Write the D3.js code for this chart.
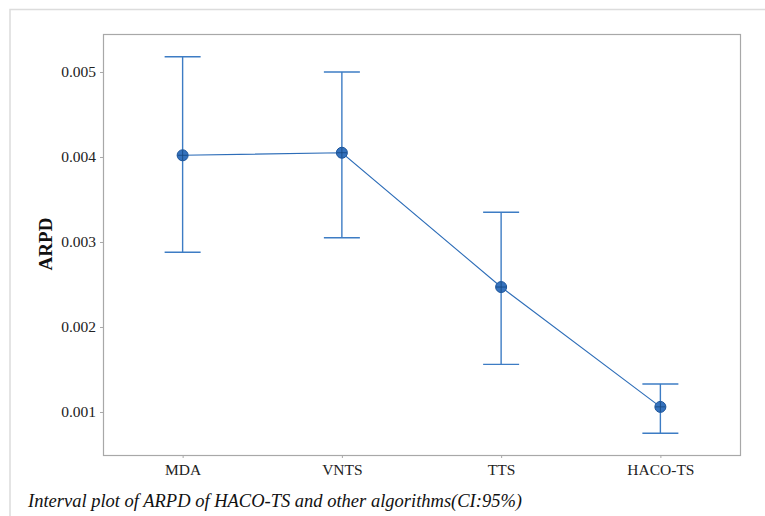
<!DOCTYPE html>
<html>
<head>
<meta charset="utf-8">
<script src="https://cdn.jsdelivr.net/npm/d3@7"></script>
<style>
  body { margin: 0; background: #fff; }
  svg { display: block; font-family: "Liberation Serif", "Times New Roman", serif; }
</style>
</head>
<body>
<svg id="chart"></svg>
<script>
const width = 765;
const height = 516;

// data
const algorithms = ["MDA", "VNTS", "TTS", "HACO-TS"];
const means = [0.00402, 0.00405, 0.00247, 0.00106];
const lower = [0.00288, 0.00305, 0.00156, 0.00075];
const upper = [0.00518, 0.00500, 0.00335, 0.00133];
const yTicks = [0.001, 0.002, 0.003, 0.004, 0.005];

const margin = {top: 34, right: 25, bottom: 61, left: 103};
const blue = "#3d7cc4";

var svg = d3.select("#chart").attr("width", width).attr("height", height);

// outer frame (only top and left edges show)
svg.append("path")
  .attr("d", `M10,${height}V9.5H${width}`)
  .attr("fill", "none")
  .attr("stroke", "#dcdcdc")
  .attr("stroke-width", 1.5);

var xScale = d3.scalePoint().domain(algorithms)
  .range([margin.left, width - margin.right]).padding(0.5);
var yScale = d3.scaleLinear().domain([0.000494, 0.005447])
  .range([height - margin.bottom, margin.top]);

// plot box
svg.append("rect")
  .attr("x", margin.left + 0.5)
  .attr("y", margin.top + 0.5)
  .attr("width", width - margin.left - margin.right)
  .attr("height", height - margin.top - margin.bottom)
  .attr("fill", "none")
  .attr("stroke", "#a8a8a8")
  .attr("stroke-width", 1.2);

var yAxis = svg.append("g")
  .attr("transform", `translate(${margin.left},0)`)
  .call(d3.axisLeft(yScale).tickValues(yTicks).tickFormat(d3.format(".3f")).tickSize(3).tickPadding(4));
var xAxis = svg.append("g")
  .attr("transform", `translate(0,${height - margin.bottom})`)
  .call(d3.axisBottom(xScale).tickSize(3).tickPadding(6));

[yAxis, xAxis].forEach(g => {
  g.select(".domain").remove();
  g.selectAll("line").attr("stroke", "#a8a8a8");
  g.selectAll("text").attr("font-family", "Liberation Serif").attr("font-size", 15.5).attr("fill", "#222");
});

svg.append("text")
  .attr("transform", "translate(52,244) rotate(-90)")
  .attr("text-anchor", "middle")
  .attr("font-size", 19)
  .attr("font-weight", "bold")
  .attr("fill", "#111")
  .text("ARPD");

// mean line
var line = d3.line().x((d, i) => xScale(algorithms[i])).y(d => yScale(d));
svg.append("path")
  .attr("d", line(means))
  .attr("fill", "none")
  .attr("stroke", "#2d6db8")
  .attr("stroke-width", 1.1);

// interval bars
var bars = svg.selectAll("g.bar")
  .data(algorithms)
  .enter()
  .append("g")
  .attr("class", "bar")
  .attr("transform", d => `translate(${xScale(d)},0)`)
  .attr("stroke", blue)
  .attr("stroke-width", 1.4);

bars.append("line")
  .attr("y1", (d, i) => yScale(upper[i]))
  .attr("y2", (d, i) => yScale(lower[i]));
bars.append("line")
  .attr("x1", -18).attr("x2", 18)
  .attr("y1", (d, i) => yScale(upper[i]))
  .attr("y2", (d, i) => yScale(upper[i]));
bars.append("line")
  .attr("x1", -18).attr("x2", 18)
  .attr("y1", (d, i) => yScale(lower[i]))
  .attr("y2", (d, i) => yScale(lower[i]));

// mean markers
var marks = bars.append("g")
  .attr("transform", (d, i) => `translate(0,${yScale(means[i])})`);
marks.append("circle")
  .attr("r", 5.5)
  .attr("fill", "#3572bd")
  .attr("stroke", "#1d559a")
  .attr("stroke-width", 1);
marks.append("path")
  .attr("d", "M-5,0H5M0,-5V5")
  .attr("stroke", "#14467f")
  .attr("stroke-width", 0.8);

// caption
svg.append("text")
  .attr("x", 28)
  .attr("y", 507)
  .attr("font-size", 18.5)
  .attr("font-style", "italic")
  .attr("fill", "#111")
  .text("Interval plot of ARPD of HACO-TS and other algorithms(CI:95%)");
</script>
</body>
</html>
